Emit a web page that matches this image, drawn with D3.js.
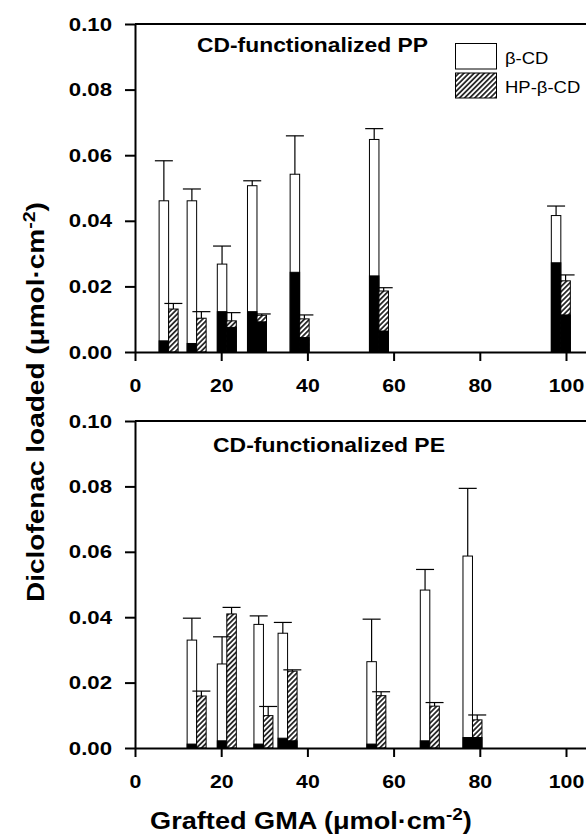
<!DOCTYPE html>
<html>
<head>
<meta charset="utf-8">
<script src="https://cdn.jsdelivr.net/npm/d3@7"></script>
<style>
  body { margin: 0; background: #fff; }
  svg { display: block; }
  text { font-family: "Liberation Sans", Arial, sans-serif; }
</style>
</head>
<body>
<div id="chart"></div>
<script>
// ---- data ----
var ticksY = [0, 0.02, 0.04, 0.06, 0.08, 0.10];
var ticksX = [0, 20, 40, 60, 80, 100];

// CD-functionalized PP
var gmaPP      = [7.8, 14.3, 21.3, 28.3, 38.2, 56.6, 98.8];
var ppBcd      = [0.0461, 0.0461, 0.0268, 0.0507, 0.0542, 0.0648, 0.0416];
var ppBcdSd    = [0.0122, 0.0036, 0.0055, 0.0015, 0.0117, 0.0033, 0.0029];
var ppBcdBlack = [0.0034, 0.0026, 0.0123, 0.0123, 0.0243, 0.0232, 0.0272];
var ppHp       = [0.0131, 0.0103, 0.0095, 0.0112, 0.0101, 0.0186, 0.0217];
var ppHpSd     = [0.0017, 0.0020, 0.0025, 0.0004, 0.0012, 0.0010, 0.0018];
var ppHpBlack  = [0, 0, 0.0075, 0.0092, 0.0044, 0.0064, 0.0113];

// CD-functionalized PE
var gmaPE      = [14.3, 21.3, 29.8, 35.4, 56.0, 68.4, 78.3];
var peBcd      = [0.0330, 0.0257, 0.0378, 0.0351, 0.0264, 0.0483, 0.0587];
var peBcdSd    = [0.0067, 0.0083, 0.0026, 0.0033, 0.0130, 0.0063, 0.0207];
var peBcdBlack = [0.0012, 0.0022, 0.0012, 0.0030, 0.0012, 0.0022, 0.0032];
var peHp       = [0.0159, 0.0410, 0.0099, 0.0235, 0.0160, 0.0128, 0.0086];
var peHpSd     = [0.0015, 0.0020, 0.0028, 0.0004, 0.0012, 0.0011, 0.0015];
var peHpBlack  = [0, 0, 0, 0.0022, 0, 0, 0.0032];

var width = 586, height = 834;
var barW = 9.5, capW = 18;

var svg = d3.select("#chart").append("svg")
  .attr("width", width)
  .attr("height", height);

svg.append("rect").attr("width", width).attr("height", height).attr("fill", "#fff");

var pat = svg.append("defs").append("pattern")
  .attr("id", "hatch")
  .attr("patternUnits", "userSpaceOnUse")
  .attr("width", 3.6).attr("height", 3.6)
  .attr("patternTransform", "rotate(45)");
pat.append("rect").attr("width", 3.6).attr("height", 3.6).attr("fill", "#fff");
pat.append("line")
  .attr("x1", 1.8).attr("x2", 1.8).attr("y1", 0).attr("y2", 3.6)
  .attr("stroke", "#000").attr("stroke-width", 1.5);

// x runs a bit past 100 so the axis line leaves the picture on the right
var xUnit = (566 - 135) / 100;
var x = d3.scaleLinear().domain([0, 106]).range([135, 135 + 106 * xUnit]);

// place a text at (cx,cy) and stretch it horizontally to a given width
function label(parent, cx, cy, rot, anchor, size, weight, target, build) {
  var g = parent.append("g").attr("transform", "translate(" + cx + "," + cy + ")" + (rot ? " rotate(" + rot + ")" : ""));
  var t = g.append("text")
    .attr("text-anchor", anchor)
    .attr("font-size", size)
    .attr("font-weight", weight);
  build(t);
  var w = t.node().getBBox().width;
  t.attr("transform", "scale(" + (target / w) + ",1)");
  return t;
}

function unitText(t, pre) {
  t.append("tspan").text(pre + "(\u03bcmol\u00b7cm");
  t.append("tspan").attr("dy", "-0.55em").attr("font-size", "0.7em").text("-2");
  t.append("tspan").attr("dy", "0.385em").text(")");
}

function drawPanel(p) {
  var y = d3.scaleLinear().domain([0, 0.1]).range([p.bottom, p.top]);
  var g = svg.append("g");

  var rows = p.gma.map(function(d, i) {
    return { gma: d, bcd: p.bcd[i], bcdSd: p.bcdSd[i], bcdBlack: p.bcdBlack[i],
             hp: p.hp[i], hpSd: p.hpSd[i], hpBlack: p.hpBlack[i] };
  });

  // top frame line
  g.append("line")
    .attr("x1", x(0)).attr("x2", width + 10)
    .attr("y1", y(0.1)).attr("y2", y(0.1))
    .attr("stroke", "#000").attr("stroke-width", 2);

  var pair = g.append("g").selectAll("g")
    .data(rows)
    .enter().append("g");

  // beta-CD (white) with black base
  pair.append("rect")
    .attr("x", function(d) { return x(d.gma) - barW; })
    .attr("y", function(d) { return y(d.bcd); })
    .attr("width", barW)
    .attr("height", function(d) { return y(0) - y(d.bcd); })
    .attr("fill", "#fff").attr("stroke", "#000").attr("stroke-width", 1);
  pair.append("rect")
    .attr("x", function(d) { return x(d.gma) - barW; })
    .attr("y", function(d) { return y(d.bcdBlack); })
    .attr("width", barW)
    .attr("height", function(d) { return y(0) - y(d.bcdBlack); })
    .attr("fill", "#000").attr("stroke", "#000").attr("stroke-width", 1);

  // HP-beta-CD (hatched) with black base
  pair.append("rect")
    .attr("x", function(d) { return x(d.gma); })
    .attr("y", function(d) { return y(d.hp); })
    .attr("width", barW)
    .attr("height", function(d) { return y(0) - y(d.hp); })
    .attr("fill", "url(#hatch)").attr("stroke", "#000").attr("stroke-width", 1);
  pair.filter(function(d) { return d.hpBlack > 0; }).append("rect")
    .attr("x", function(d) { return x(d.gma); })
    .attr("y", function(d) { return y(d.hpBlack); })
    .attr("width", barW)
    .attr("height", function(d) { return y(0) - y(d.hpBlack); })
    .attr("fill", "#000").attr("stroke", "#000").attr("stroke-width", 1);

  // error bars (upper only)
  var err = [];
  rows.forEach(function(d) {
    err.push({ cx: x(d.gma) - barW / 2, v: d.bcd, sd: d.bcdSd });
    err.push({ cx: x(d.gma) + barW / 2, v: d.hp, sd: d.hpSd });
  });
  var eb = g.append("g").selectAll("g").data(err).enter().append("g")
    .attr("stroke", "#000").attr("stroke-width", 1.2);
  eb.append("line")
    .attr("x1", function(d) { return d.cx; }).attr("x2", function(d) { return d.cx; })
    .attr("y1", function(d) { return y(d.v); })
    .attr("y2", function(d) { return y(d.v + d.sd); });
  eb.append("line")
    .attr("x1", function(d) { return d.cx - capW / 2; })
    .attr("x2", function(d) { return d.cx + capW / 2; })
    .attr("y1", function(d) { return y(d.v + d.sd); })
    .attr("y2", function(d) { return y(d.v + d.sd); });

  // axes
  var ya = g.append("g")
    .attr("transform", "translate(" + x(0) + ",0)")
    .call(d3.axisLeft(y).tickValues(ticksY).tickSize(10).tickPadding(13)
      .tickSizeOuter(0).tickFormat(d3.format(".2f")));
  var xa = g.append("g")
    .attr("transform", "translate(0," + y(0) + ")")
    .call(d3.axisBottom(x).tickValues(ticksX).tickSize(9).tickPadding(18).tickSizeOuter(0));

  [ya, xa].forEach(function(a) {
    a.attr("font-family", null).attr("font-size", null);
    a.selectAll("path, line").attr("stroke", "#000").attr("stroke-width", 2);
    a.selectAll("text")
      .attr("fill", "#000")
      .attr("font-size", 19)
      .attr("font-weight", "bold");
  });
  ya.selectAll("text").each(function() {
    var t = d3.select(this), tx = +t.attr("x");
    t.attr("x", 0).attr("transform", "translate(" + tx + ",0) scale(1.17,1)");
  });
  xa.selectAll("text").attr("transform", "scale(1.12,1)");

  // panel title
  label(g, p.titleX, p.titleY, 0, "middle", 21, "bold", p.titleW, function(t) { t.text(p.title); });
}

drawPanel({
  top: 24, bottom: 352, title: "CD-functionalized PP", titleX: 312.5, titleY: 52, titleW: 231,
  gma: gmaPP, bcd: ppBcd, bcdSd: ppBcdSd, bcdBlack: ppBcdBlack, hp: ppHp, hpSd: ppHpSd, hpBlack: ppHpBlack
});
drawPanel({
  top: 421, bottom: 748, title: "CD-functionalized PE", titleX: 329, titleY: 452, titleW: 232,
  gma: gmaPE, bcd: peBcd, bcdSd: peBcdSd, bcdBlack: peBcdBlack, hp: peHp, hpSd: peHpSd, hpBlack: peHpBlack
});

// legend
var legend = svg.append("g");
legend.append("rect").attr("x", 455.5).attr("y", 43.5).attr("width", 41).attr("height", 25.5)
  .attr("fill", "#fff").attr("stroke", "#000").attr("stroke-width", 1);
legend.append("rect").attr("x", 455.5).attr("y", 73).attr("width", 41).attr("height", 25)
  .attr("fill", "url(#hatch)").attr("stroke", "#000").attr("stroke-width", 1);
legend.append("text").attr("transform", "translate(505,64) scale(1.12,1)")
  .attr("font-size", 16.5).text("\u03b2-CD");
legend.append("text").attr("transform", "translate(505,93) scale(1.12,1)")
  .attr("font-size", 16.5).text("HP-\u03b2-CD");

// axis titles
label(svg, 44, 402, -90, "middle", 24, "bold", 400, function(t) { unitText(t, "Diclofenac loaded "); });
label(svg, 311, 829, 0, "middle", 23, "bold", 322, function(t) { unitText(t, "Grafted GMA "); });
</script>
</body>
</html>
